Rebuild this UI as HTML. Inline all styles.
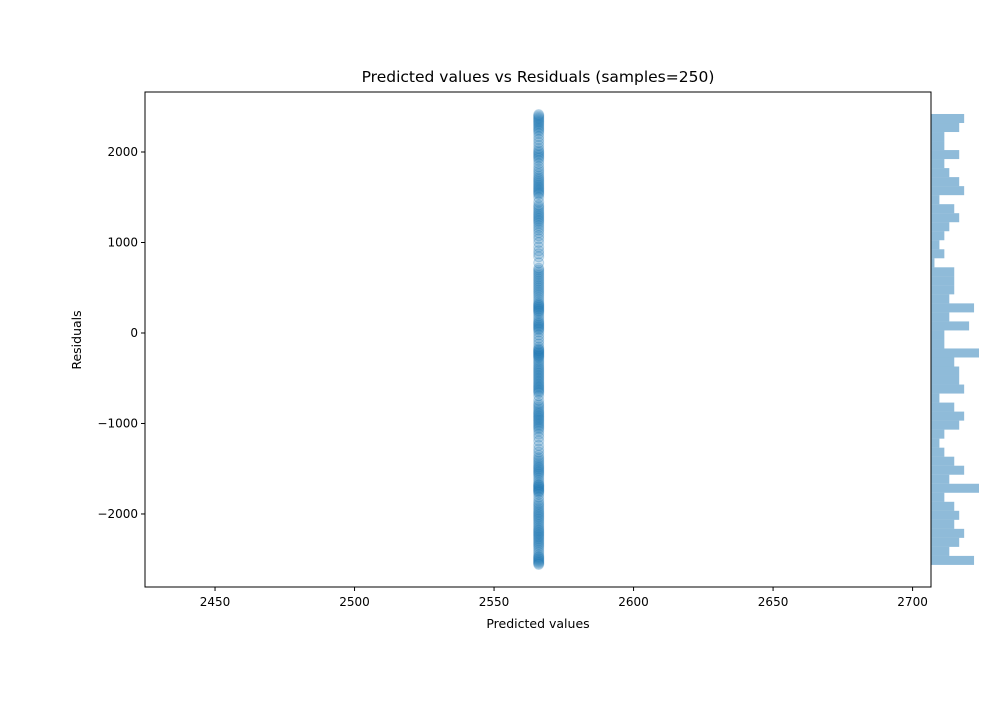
<!DOCTYPE html>
<html><head><meta charset="utf-8"><style>
body{margin:0;background:#fff;font-family:"Liberation Sans","DejaVu Sans",sans-serif;}
svg text{font-family:"DejaVu Sans","Liberation Sans",sans-serif;fill:#000;}
</style></head><body>
<svg id="c" width="1000" height="700"></svg>
<script>
const predictedValue = 2566;
const xTicks = [2450, 2500, 2550, 2600, 2650, 2700];
const yTicks = [2000, 1000, 0, -1000, -2000];
const yTickLabels = ["2000", "1000", "0", "\u22121000", "\u22122000"];
const histMin = -2563, histMax = 2420;
// bin counts from top (high residual) to bottom
const binCounts = [7,6,3,3,6,3,4,6,7,2,5,6,4,3,2,3,1,5,5,5,4,9,4,8,
  3,3,10,5,6,6,7,2,5,7,6,3,2,3,5,7,4,10,3,5,6,5,7,6,4,9];

const NS = "http://www.w3.org/2000/svg";
const svg = document.getElementById('c');
function el(t, a, p) { const e = document.createElementNS(NS, t); for (const k in a) e.setAttribute(k, a[k]); (p || svg).appendChild(e); return e; }
const X0 = 145, X1 = 931, Y0 = 92, Y1 = 587;
const xMin = 2424.9, xMax = 2706.6, yMin = -2807, yMax = 2663;
const sx = v => X0 + (v - xMin) / (xMax - xMin) * (X1 - X0);
const sy = v => Y1 - (v - yMin) / (yMax - yMin) * (Y1 - Y0);
const nb = binCounts.length, bw = (histMax - histMin) / nb;
const sc = c => c * 4.95 - 1.5;

// scatter residuals derived from histogram bins
const residuals = [];
binCounts.forEach((c, i) => { const hi = histMax - i * bw; for (let j = 0; j < c; j++) residuals.push(hi - (j + 0.5) / c * bw); });

const pts = el('g', {});


residuals.forEach(r => {
  const p = el('circle', { cx: sx(predictedValue), cy: sy(r), r: 5, fill: '#1f77b4', 'fill-opacity': 0.2, stroke: '#1f77b4', 'stroke-opacity': 0.25 }, pts);
  
  
});

const hg = el('g', {});


binCounts.forEach((c, i) => {
  const top = sy(histMax - i * bw), bot = sy(histMax - (i + 1) * bw);
  const b = el('rect', { x: X1, y: top, width: Math.max(0, sc(c)), height: bot - top, fill: '#1f77b4', 'fill-opacity': 0.5 }, hg);
  
  
});

const frame = el('rect', { x: X0, y: Y0, width: X1 - X0, height: Y1 - Y0, fill: 'none', stroke: '#000', 'stroke-width': 1 });



xTicks.forEach(t => {
  const x = sx(t);
  el('line', { x1: x, x2: x, y1: Y1, y2: Y1 + 4, stroke: '#000' });
  const tx = el('text', { x: x, y: Y1 + 19, 'text-anchor': 'middle', 'font-size': 12 });
  tx.textContent = t;
  
  
});
yTicks.forEach((t, i) => {
  const y = sy(t);
  el('line', { x1: X0 - 4, x2: X0, y1: y, y2: y, stroke: '#000' });
  const tx = el('text', { x: X0 - 7, y: y + 4, 'text-anchor': 'end', 'font-size': 12 });
  tx.textContent = yTickLabels[i];
  
  
});

const title = el('text', { x: 538, y: 82, 'text-anchor': 'middle', 'font-size': 15.5 });
title.textContent = 'Predicted values vs Residuals (samples=250)';


const xl = el('text', { x: 538, y: 628, 'text-anchor': 'middle', 'font-size': 12.5 });
xl.textContent = 'Predicted values';


const yl = el('text', { x: 81, y: 340, 'text-anchor': 'middle', 'font-size': 12.5, transform: 'rotate(-90 81 340)' });
yl.textContent = 'Residuals';


</script>
</body></html>
